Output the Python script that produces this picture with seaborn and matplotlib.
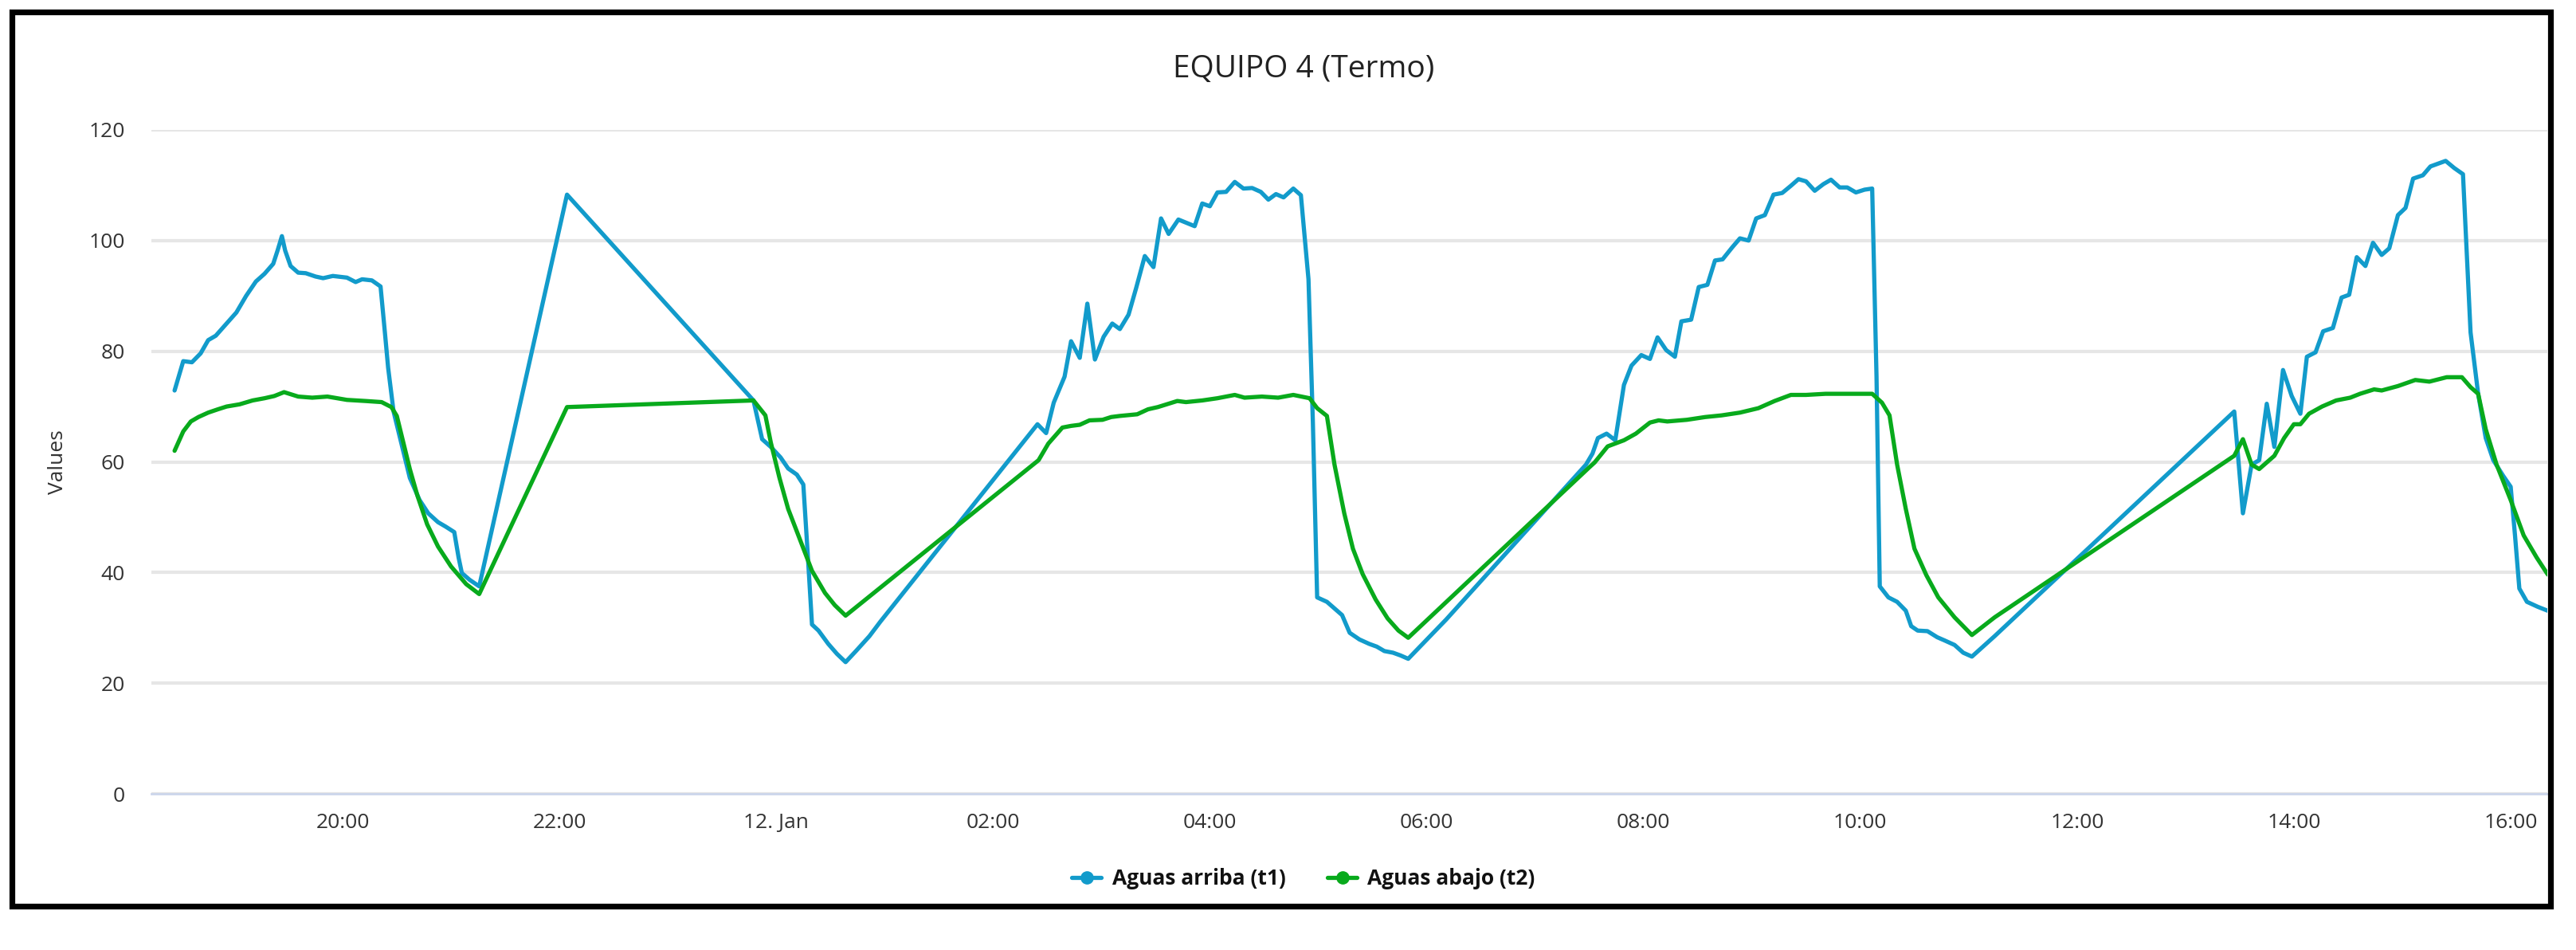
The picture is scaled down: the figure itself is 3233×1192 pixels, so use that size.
import pandas as pd
import seaborn as sns
import matplotlib.pyplot as plt
from matplotlib.lines import Line2D
from matplotlib.patches import Rectangle

# Readings, hours counted from 11 Jan 00:00
t1_hours = [18.45, 18.53, 18.61, 18.69, 18.76, 18.83, 18.93, 19.02, 19.11, 19.20,
            19.28, 19.36, 19.40, 19.44, 19.47, 19.52, 19.59, 19.66, 19.75, 19.82,
            19.91, 20.04, 20.12, 20.18, 20.27, 20.35, 20.39, 20.42, 20.47, 20.55,
            20.62, 20.71, 20.79, 20.88, 20.95, 21.03, 21.07, 21.10, 21.17, 21.26,
            22.07, 23.79, 23.87, 23.95, 24.04, 24.11, 24.19, 24.25, 24.29, 24.33,
            24.39, 24.48, 24.56, 24.64, 24.74, 24.86, 24.96, 26.41, 26.49, 26.56,
            26.66, 26.72, 26.80, 26.87, 26.94, 27.02, 27.10, 27.17, 27.25, 27.32,
            27.40, 27.48, 27.55, 27.62, 27.71, 27.86, 27.93, 28.00, 28.07, 28.15,
            28.23, 28.31, 28.39, 28.47, 28.54, 28.61, 28.68, 28.77, 28.84, 28.91,
            28.95, 28.99, 29.08, 29.15, 29.22, 29.29, 29.38, 29.47, 29.54, 29.61,
            29.69, 29.76, 29.83, 30.18, 31.47, 31.53, 31.58, 31.66, 31.74, 31.82,
            31.89, 31.98, 32.06, 32.13, 32.21, 32.29, 32.35, 32.44, 32.51, 32.59,
            32.66, 32.73, 32.82, 32.89, 32.97, 33.04, 33.12, 33.20, 33.28, 33.36,
            33.43, 33.50, 33.58, 33.66, 33.73, 33.81, 33.88, 33.96, 34.04, 34.11,
            34.15, 34.18, 34.26, 34.34, 34.42, 34.47, 34.53, 34.62, 34.71, 34.78,
            34.87, 34.95, 35.03, 35.24, 37.45, 37.53, 37.61, 37.68, 37.75, 37.82,
            37.90, 37.98, 38.06, 38.12, 38.20, 38.27, 38.36, 38.44, 38.51, 38.58,
            38.66, 38.73, 38.81, 38.88, 38.96, 39.03, 39.10, 39.19, 39.26, 39.33,
            39.40, 39.48, 39.56, 39.63, 39.70, 39.77, 39.84, 39.93, 40.00, 40.04,
            40.08, 40.15, 40.25, 40.34, 40.42]
t1_values = [72.9, 78.2, 78.0, 79.6, 82.0, 82.8, 85.0, 87.0, 90.0, 92.6,
             94.0, 95.8, 98.2, 100.8, 98.2, 95.4, 94.2, 94.1, 93.5, 93.2,
             93.6, 93.3, 92.5, 93.0, 92.8, 91.7, 83.4, 77.0, 69.1, 62.7,
             57.1, 53.1, 50.7, 49.1, 48.3, 47.3, 42.7, 39.9, 38.7, 37.5,
             108.3, 71.1, 64.1, 62.7, 60.8, 58.8, 57.7, 55.9, 43.5, 30.6,
             29.5, 27.1, 25.3, 23.8, 25.9, 28.5, 31.1, 66.8, 65.2, 70.7,
             75.4, 81.8, 78.8, 88.6, 78.5, 82.6, 85.0, 84.0, 86.6, 91.4,
             97.2, 95.2, 104.0, 101.2, 103.8, 102.6, 106.7, 106.2, 108.7, 108.8,
             110.6, 109.4, 109.5, 108.8, 107.4, 108.4, 107.8, 109.4, 108.2, 93.0,
             67.5, 35.5, 34.7, 33.5, 32.3, 29.1, 27.9, 27.1, 26.6, 25.8,
             25.5, 25.0, 24.4, 31.5, 59.5, 61.5, 64.3, 65.1, 63.9, 73.9,
             77.4, 79.3, 78.6, 82.5, 80.2, 79.0, 85.4, 85.7, 91.6, 92.0,
             96.4, 96.6, 98.8, 100.4, 100.0, 104.0, 104.6, 108.3, 108.6, 109.9,
             111.1, 110.7, 109.0, 110.2, 111.0, 109.6, 109.6, 108.7, 109.2, 109.4,
             75.4, 37.5, 35.5, 34.7, 33.1, 30.3, 29.5, 29.4, 28.3, 27.7,
             26.9, 25.5, 24.8, 28.5, 69.1, 50.7, 59.5, 60.3, 70.5, 62.7,
             76.6, 71.9, 68.7, 79.0, 79.8, 83.6, 84.2, 89.7, 90.2, 97.0,
             95.4, 99.6, 97.4, 98.6, 104.6, 105.9, 111.2, 111.8, 113.4, 113.9,
             114.4, 113.1, 112.0, 83.4, 72.3, 64.3, 60.3, 57.5, 55.5, 46.7,
             37.1, 34.7, 33.8, 33.1, 32.7]

t2_hours = [18.45, 18.53, 18.60, 18.67, 18.76, 18.85, 18.93, 19.05, 19.17, 19.28,
            19.37, 19.46, 19.59, 19.72, 19.86, 20.04, 20.21, 20.36, 20.45, 20.50,
            20.56, 20.62, 20.69, 20.78, 20.88, 21.00, 21.14, 21.26, 22.07, 23.79,
            23.90, 23.95, 24.03, 24.11, 24.22, 24.33, 24.45, 24.54, 24.64, 26.42,
            26.51, 26.64, 26.72, 26.80, 26.89, 27.01, 27.09, 27.17, 27.33, 27.43,
            27.52, 27.70, 27.78, 27.93, 28.07, 28.23, 28.32, 28.48, 28.63, 28.77,
            28.92, 28.99, 29.08, 29.15, 29.24, 29.32, 29.41, 29.53, 29.64, 29.74,
            29.83, 30.02, 31.50, 31.55, 31.67, 31.82, 31.93, 32.06, 32.14, 32.22,
            32.40, 32.57, 32.72, 32.89, 33.06, 33.21, 33.36, 33.50, 33.68, 33.85,
            34.11, 34.20, 34.27, 34.34, 34.42, 34.50, 34.61, 34.72, 34.87, 35.03,
            35.24, 37.45, 37.53, 37.61, 37.68, 37.75, 37.82, 37.91, 38.00, 38.06,
            38.14, 38.26, 38.39, 38.52, 38.61, 38.74, 38.81, 38.96, 39.12, 39.25,
            39.41, 39.55, 39.63, 39.70, 39.77, 39.87, 40.00, 40.12, 40.24, 40.34,
            40.42]
t2_values = [62.0, 65.5, 67.3, 68.1, 68.9, 69.5, 70.0, 70.4, 71.1, 71.5,
             71.9, 72.6, 71.8, 71.6, 71.8, 71.2, 71.0, 70.8, 69.9, 68.3,
             63.5, 58.7, 53.9, 48.7, 44.7, 41.1, 37.9, 36.1, 69.9, 71.1,
             68.4, 63.5, 57.1, 51.5, 45.9, 40.3, 36.3, 34.1, 32.2, 60.3,
             63.3, 66.2, 66.5, 66.7, 67.5, 67.6, 68.1, 68.3, 68.6, 69.5,
             69.9, 71.0, 70.8, 71.1, 71.5, 72.1, 71.6, 71.8, 71.6, 72.1,
             71.5, 69.7, 68.3, 59.5, 50.7, 44.3, 39.7, 35.1, 31.7, 29.5,
             28.2, 31.7, 59.0, 59.9, 62.8, 63.9, 65.1, 67.1, 67.5, 67.3,
             67.6, 68.1, 68.4, 68.9, 69.7, 71.0, 72.1, 72.1, 72.3, 72.3,
             72.3, 70.7, 68.4, 59.5, 51.5, 44.3, 39.5, 35.5, 31.9, 28.7,
             31.9, 61.1, 64.1, 59.5, 58.7, 59.9, 61.1, 64.3, 66.8, 66.8,
             68.7, 70.0, 71.1, 71.6, 72.3, 73.1, 72.9, 73.7, 74.8, 74.5,
             75.3, 75.3, 73.5, 72.3, 65.9, 59.5, 53.1, 46.7, 42.7, 39.7,
             38.3]

series_names = ["Aguas arriba (t1)", "Aguas abajo (t2)"]
series_colors = ["#129BCB", "#08AA1C"]

tick_hours = [20, 22, 24, 26, 28, 30, 32, 34, 36, 38, 40]
tick_labels = ["20:00", "22:00", "12. Jan", "02:00", "04:00", "06:00",
               "08:00", "10:00", "12:00", "14:00", "16:00"]
y_ticks = [0, 20, 40, 60, 80, 100, 120]

base = pd.Timestamp("2023-01-11")
df = pd.concat([
    pd.DataFrame({"time": base + pd.to_timedelta(t1_hours, unit="h"),
                  "value": t1_values, "series": series_names[0]}),
    pd.DataFrame({"time": base + pd.to_timedelta(t2_hours, unit="h"),
                  "value": t2_values, "series": series_names[1]}),
])

sns.set_style("white")
plt.rcParams["font.family"] = ["Open Sans", "DejaVu Sans"]

W, H = 3233, 1192
fig = plt.figure(figsize=(W / 100, H / 100), dpi=100)
ax = fig.add_axes([190 / W, 1 - 996 / H, (3197 - 190) / W, (996 - 163) / H])

sns.lineplot(data=df, x="time", y="value", hue="series", palette=series_colors,
             linewidth=3.8, legend=False, estimator=None, ax=ax)

ax.set_ylim(0, 120)
ax.set_yticks(y_ticks)
ax.set_xlim(base + pd.Timedelta(hours=18.236), base + pd.Timedelta(hours=40.338))
ax.set_xticks([base + pd.Timedelta(hours=h) for h in tick_hours])
ax.set_xticklabels(tick_labels)

ax.yaxis.grid(True, color="#e6e6e6", linewidth=3)
ax.xaxis.grid(False)
ax.set_axisbelow(True)
for s in ["top", "right", "left"]:
    ax.spines[s].set_visible(False)
ax.spines["bottom"].set_color("#ccd6eb")
ax.spines["bottom"].set_linewidth(2)

ax.tick_params(axis="y", length=0, pad=24, labelsize=19, labelcolor="#333333")
ax.tick_params(axis="x", length=13, width=1.5, color="#ccd6eb", pad=4,
               labelsize=19, labelcolor="#333333")
ax.set_xlabel("")
ax.set_ylabel("Values", fontsize=19, color="#333333")
ax.yaxis.set_label_coords(-0.035, 0.5)

fig.text(0.506, 1 - 87 / H, "EQUIPO 4 (Termo)", ha="center", va="center",
         fontsize=28, color="#222222")

handles = [Line2D([0], [0], color=c, lw=3.8, marker="o", markersize=11)
           for c in series_colors]
fig.legend(handles, series_names, loc="center", bbox_to_anchor=(0.506, 1 - 1103 / H),
           ncol=2, frameon=False, prop={"weight": "bold", "size": 19},
           handlelength=1.4, handletextpad=0.5, columnspacing=2.0,
           labelcolor="#111111")

# black frame around the whole chart
fig.patches.append(Rectangle((14.5 / W, 1 - 1137 / H), (3201 - 14.5) / W,
                             (1137 - 14.5) / H, transform=fig.transFigure,
                             fill=False, edgecolor="black", linewidth=5.2))

fig.savefig("out.png", dpi=100, facecolor="white")
